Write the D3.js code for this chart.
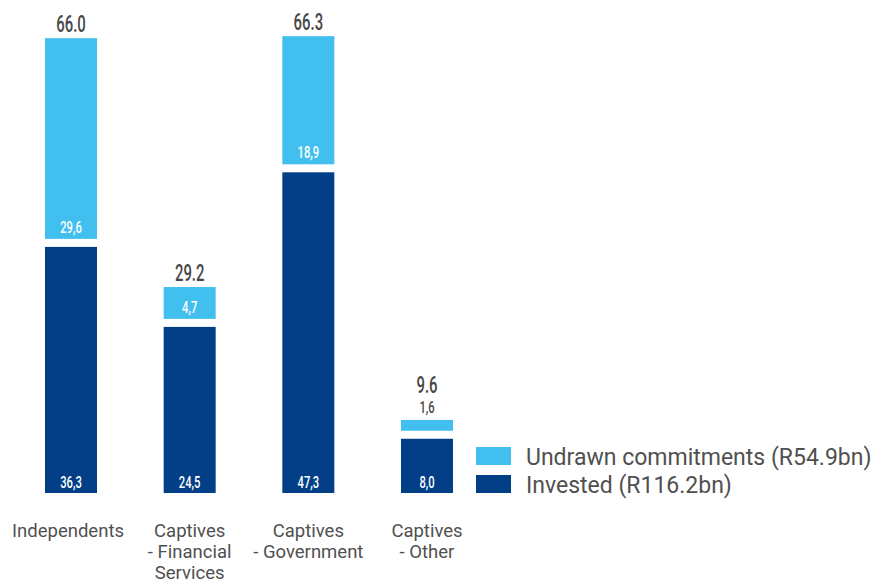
<!DOCTYPE html>
<html>
<head>
<meta charset="utf-8">
<script src="https://cdn.jsdelivr.net/npm/d3@7"></script>
<style>
  body { margin: 0; background: #fff; }
  svg { display: block; }
</style>
</head>
<body>
<div id="chart"></div>
<script>
// categories and values (R bn)
const categories = ['Independents', 'Captives - Financial Services', 'Captives - Government', 'Captives - Other']
const categoryLines = [['Independents'], ['Captives', '- Financial', 'Services'], ['Captives', '- Government'], ['Captives', '- Other']]
const invested = [36.3, 24.5, 47.3, 8.0]
const undrawn = [29.6, 4.7, 18.9, 1.6]
const totals = ['66.0', '29.2', '66.3', '9.6']
const investedLabels = ['36,3', '24,5', '47,3', '8,0']
const undrawnLabels = ['29,6', '4,7', '18,9', '1,6']
const legendItems = ['Undrawn commitments (R54.9bn)', 'Invested (R116.2bn)']

const W = 876, H = 585
const LIGHT = '#41c0ef', DARK = '#023f87'
const GAP = 8, BARW = 52
const condensed = 'Roboto, "DejaVu Sans", sans-serif'
const plain = 'Roboto, "Liberation Sans", sans-serif'

const svg = d3.select('#chart').append('svg')
  .attr('width', W).attr('height', H)

const x = d3.scalePoint().domain(categories).range([71, 427])
const y = d3.scaleLinear().domain([0, 70]).range([493, 493 - 70 * 6.78])

const g = svg.append('g')

// invested (dark) segments
g.selectAll('rect.inv').data(categories).join('rect')
  .attr('class', 'inv')
  .attr('x', d => x(d) - BARW / 2)
  .attr('width', BARW)
  .attr('y', (d, i) => y(invested[i]))
  .attr('height', (d, i) => y(0) - y(invested[i]))
  .attr('fill', DARK)

// undrawn (light) segments, lifted by a white gap
g.selectAll('rect.und').data(categories).join('rect')
  .attr('class', 'und')
  .attr('x', d => x(d) - BARW / 2)
  .attr('width', BARW)
  .attr('y', (d, i) => y(invested[i] + undrawn[i]) - GAP)
  .attr('height', (d, i) => y(invested[i]) - y(invested[i] + undrawn[i]))
  .attr('fill', LIGHT)

// condensed text: squeeze horizontally around the anchor point
function narrowText(sel, cx, cy, txt, size, fill, weight, sx) {
  sel.append('text')
    .attr('transform', `translate(${cx},${cy}) scale(${sx},1)`)
    .attr('text-anchor', 'middle')
    .style('font-family', condensed)
    .style('font-size', size + 'px')
    .style('font-weight', weight)
    .attr('fill', fill)
    .text(txt)
}

categories.forEach((c, i) => {
  const top = y(invested[i] + undrawn[i]) - GAP
  const small = y(invested[i]) - y(invested[i] + undrawn[i]) < 24
  narrowText(g, x(c), top - (small ? 27 : 6), totals[i], 24, '#474747', 500, 0.62)
  narrowText(g, x(c), y(0) - 5, investedLabels[i], 17, '#fff', 500, 0.66)
  if (small) {
    // label sits above its thin bar
    narrowText(g, x(c), top - 7, undrawnLabels[i], 17, '#474747', 500, 0.66)
  } else {
    narrowText(g, x(c), y(invested[i]) - GAP - 6, undrawnLabels[i], 17, '#fff', 500, 0.66)
  }
})

// category labels
categories.forEach((c, i) => {
  const t = g.append('text')
    .attr('text-anchor', 'middle')
    .style('font-family', plain)
    .style('font-size', '18.5px')
    .attr('fill', '#505050')
  categoryLines[i].forEach((line, j) => {
    t.append('tspan').attr('x', x(c) - (i === 0 ? 3 : 0)).attr('y', 537 + j * 21).text(line)
  })
})

// legend
const legend = svg.append('g').attr('transform', 'translate(476,447)')
legendItems.forEach((label, i) => {
  legend.append('rect')
    .attr('x', 0).attr('y', i * 28)
    .attr('width', 35).attr('height', 18)
    .attr('fill', i === 0 ? LIGHT : DARK)
  legend.append('text')
    .attr('x', 50).attr('y', i * 28 + 18)
    .style('font-family', plain)
    .style('font-size', '23px')
    .attr('fill', '#505050')
    .text(label)
})
</script>
</body>
</html>
